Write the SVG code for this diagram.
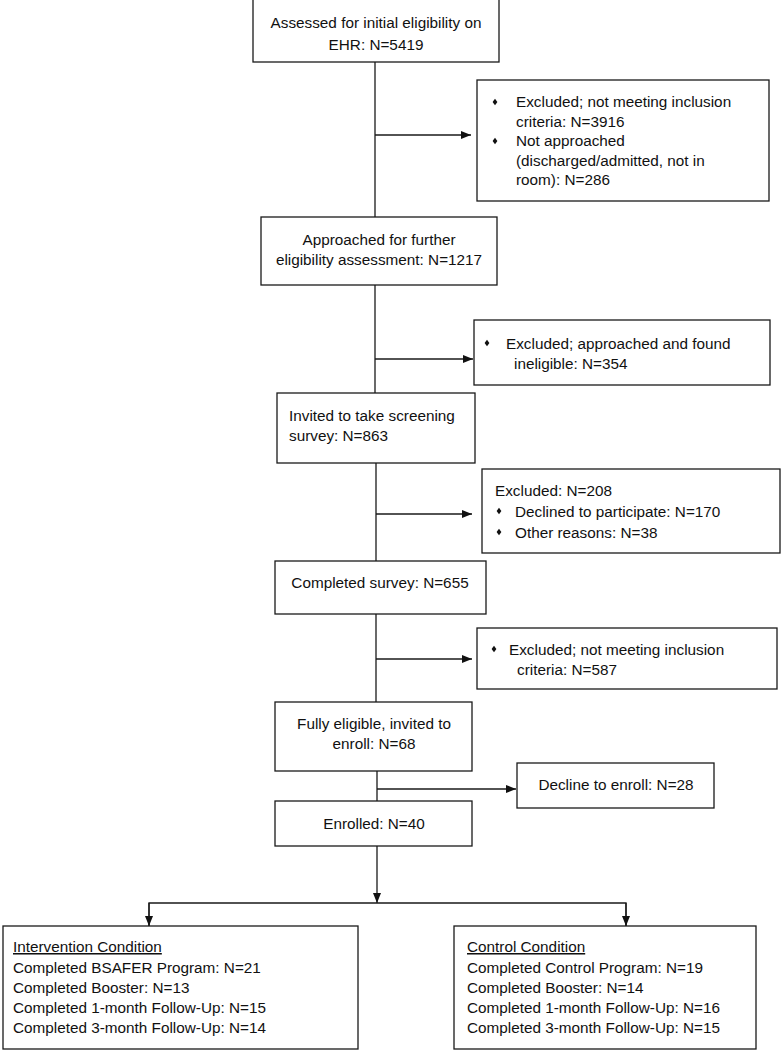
<svg xmlns="http://www.w3.org/2000/svg" width="782" height="1050" viewBox="0 0 782 1050">
<defs>
<style>
.box{fill:#fff;stroke:#1a1a1a;stroke-width:1.3}
.t{font-family:"Liberation Sans",Arial,sans-serif;font-size:15.3px;fill:#111}
.c{text-anchor:middle}
.ln{stroke:#1a1a1a;stroke-width:1.3;fill:none}
.b{fill:#111}
</style>
<marker id="ah" viewBox="0 0 10 10" refX="10" refY="5" markerWidth="10" markerHeight="10" markerUnits="userSpaceOnUse" orient="auto">
<path d="M0,1 L10,5 L0,9 Z" fill="#111"/>
</marker>
<path id="dia" d="M0,-3.2 L2.4,0 L0,3.2 L-2.4,0 Z"/>
</defs>
<rect width="782" height="1050" fill="#fff"/>
<g id="connectors">
<line class="ln" x1="375" y1="62" x2="375" y2="217"/>
<line class="ln" x1="375" y1="135" x2="471" y2="135" marker-end="url(#ah)"/>
<line class="ln" x1="375" y1="285" x2="375" y2="393"/>
<line class="ln" x1="375" y1="359" x2="473" y2="359" marker-end="url(#ah)"/>
<line class="ln" x1="376" y1="463" x2="376" y2="561"/>
<line class="ln" x1="376" y1="514" x2="472" y2="514" marker-end="url(#ah)"/>
<line class="ln" x1="376" y1="614" x2="376" y2="702"/>
<line class="ln" x1="376" y1="659" x2="472" y2="659" marker-end="url(#ah)"/>
<line class="ln" x1="377" y1="771" x2="377" y2="801"/>
<line class="ln" x1="377" y1="789" x2="516" y2="789" marker-end="url(#ah)"/>
<line class="ln" x1="377" y1="846" x2="377" y2="903" marker-end="url(#ah)"/>
<polyline class="ln" points="149,926 149,903 626,903 626,926"/>
<line class="ln" x1="149" y1="903" x2="149" y2="926" marker-end="url(#ah)"/>
<line class="ln" x1="626" y1="903" x2="626" y2="926" marker-end="url(#ah)"/>
</g>
<g id="assessed">
<rect class="box" x="253" y="-1" width="246" height="63"/>
<text class="t c" x="376" y="28">Assessed for initial eligibility on</text>
<text class="t c" x="376" y="50">EHR: N=5419</text>
</g>
<g id="excluded1">
<rect class="box" x="477" y="80" width="292" height="121"/>
<use href="#dia" class="b" x="495" y="102"/>
<text class="t" x="516" y="107">Excluded; not meeting inclusion</text>
<text class="t" x="516" y="126.5">criteria: N=3916</text>
<use href="#dia" class="b" x="495" y="141"/>
<text class="t" x="516" y="146">Not approached</text>
<text class="t" x="516" y="165.5">(discharged/admitted, not in</text>
<text class="t" x="516" y="185">room): N=286</text>
</g>
<g id="approached">
<rect class="box" x="261" y="217" width="236" height="68"/>
<text class="t c" x="379" y="244.5">Approached for further</text>
<text class="t c" x="379" y="264.5">eligibility assessment: N=1217</text>
</g>
<g id="excluded2">
<rect class="box" x="474" y="320" width="296" height="65"/>
<use href="#dia" class="b" x="487" y="343"/>
<text class="t" x="506" y="348.5">Excluded; approached and found</text>
<text class="t" x="514" y="368.5">ineligible: N=354</text>
</g>
<g id="invited">
<rect class="box" x="277" y="393" width="198" height="70"/>
<text class="t" x="289" y="420.5">Invited to take screening</text>
<text class="t" x="289" y="440.5">survey: N=863</text>
</g>
<g id="excluded3">
<rect class="box" x="482" y="469" width="298" height="84"/>
<text class="t" x="495" y="495.5">Excluded: N=208</text>
<use href="#dia" class="b" x="499" y="511"/>
<text class="t" x="515" y="516.5">Declined to participate: N=170</text>
<use href="#dia" class="b" x="499" y="532"/>
<text class="t" x="515" y="537.5">Other reasons: N=38</text>
</g>
<g id="completed">
<rect class="box" x="275" y="561" width="211" height="53"/>
<text class="t c" x="380" y="587.5">Completed survey: N=655</text>
</g>
<g id="excluded4">
<rect class="box" x="477" y="628" width="300" height="61"/>
<use href="#dia" class="b" x="494" y="649"/>
<text class="t" x="509" y="654.5">Excluded; not meeting inclusion</text>
<text class="t" x="517" y="674.5">criteria: N=587</text>
</g>
<g id="eligible">
<rect class="box" x="275" y="702" width="197" height="69"/>
<text class="t c" x="374" y="728.5">Fully eligible, invited to</text>
<text class="t c" x="374" y="748.5">enroll: N=68</text>
</g>
<g id="decline">
<rect class="box" x="517" y="763" width="197" height="45"/>
<text class="t c" x="616" y="789.5">Decline to enroll: N=28</text>
</g>
<g id="enrolled">
<rect class="box" x="275" y="801" width="197" height="45"/>
<text class="t c" x="374" y="828.5">Enrolled: N=40</text>
</g>
<g id="intervention">
<rect class="box" x="3" y="926" width="355" height="123"/>
<text class="t" x="13" y="952" text-decoration="underline">Intervention Condition</text>
<text class="t" x="13" y="972.5">Completed BSAFER Program: N=21</text>
<text class="t" x="13" y="993">Completed Booster: N=13</text>
<text class="t" x="13" y="1013">Completed 1-month Follow-Up: N=15</text>
<text class="t" x="13" y="1033">Completed 3-month Follow-Up: N=14</text>
</g>
<g id="control">
<rect class="box" x="454" y="926" width="302" height="123"/>
<text class="t" x="467" y="952" text-decoration="underline">Control Condition</text>
<text class="t" x="467" y="972.5">Completed Control Program: N=19</text>
<text class="t" x="467" y="993">Completed Booster: N=14</text>
<text class="t" x="467" y="1013">Completed 1-month Follow-Up: N=16</text>
<text class="t" x="467" y="1033">Completed 3-month Follow-Up: N=15</text>
</g>
</svg>
